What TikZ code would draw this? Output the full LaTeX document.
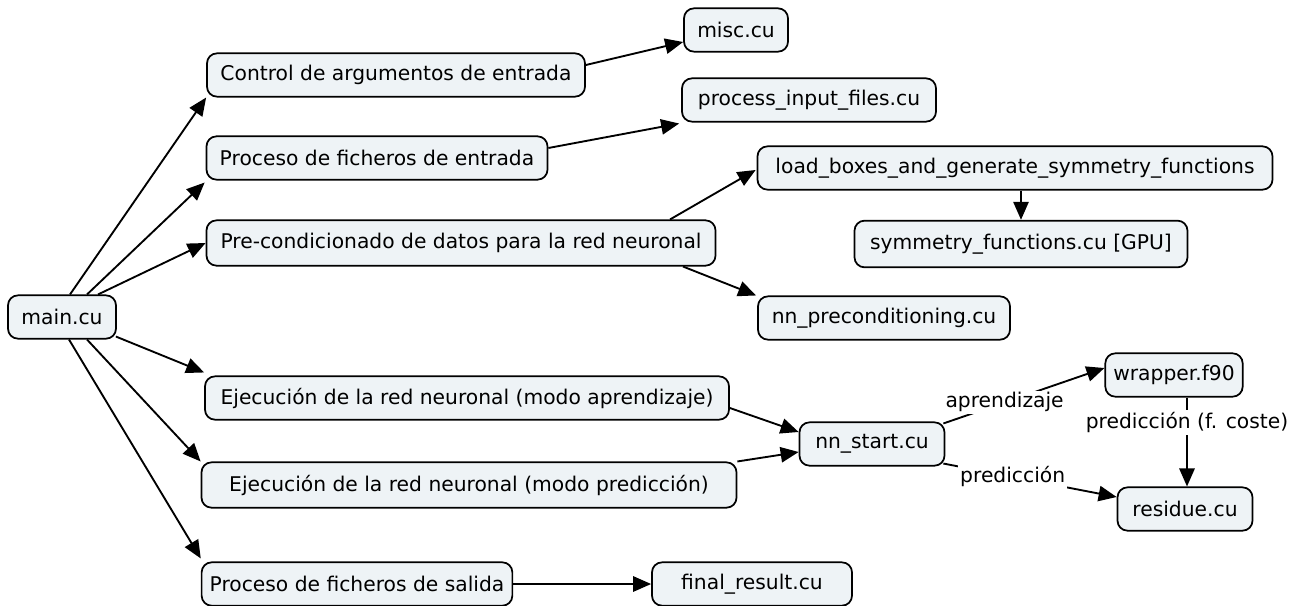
\documentclass[tikz,border=0pt]{standalone}
\usepackage{fontspec}
\setmainfont{DejaVu Sans}
\usetikzlibrary{arrows.meta,calc}
\definecolor{boxfill}{RGB}{238,243,246}
\tikzset{
  cbox/.style={draw=black, line width=1.3pt, fill=boxfill, rounded corners=7.5pt,
    inner xsep=6pt, inner ysep=0pt, minimum height=32.5pt,
    font=\fontsize{15.2}{18}\selectfont},
  wd/.style={minimum width=#1*0.75pt},
  arr/.style={line width=1.4pt, -{Triangle[length=13.5pt,width=11.5pt]}},
  lbl/.style={fill=white, inner sep=1.5pt, font=\fontsize{15.2}{18}\selectfont}
}
\begin{document}
\begin{tikzpicture}[x=0.75pt,y=-0.75pt]
\useasboundingbox (0,0) rectangle (1299,606);
\node[cbox,wd=108] (main) at (62,317) {main.cu};
\node[cbox,wd=378] (ctrl) at (396,75) {Control de argumentos de entrada};
\node[cbox,wd=104] (misc) at (736,30) {misc.cu};
\node[cbox,wd=254] (pif) at (809,100) {process\_input\_files.cu};
\node[cbox,wd=341] (entr) at (377,158) {Proceso de ficheros de entrada};
\node[cbox,wd=515] (load) at (1015,168) {load\_boxes\_and\_generate\_symmetry\_functions};
\node[cbox,wd=333,minimum height=35pt] (sym) at (1021,244) {symmetry\_functions.cu [GPU]};
\node[cbox,wd=509,minimum height=34pt] (prec) at (461,243) {Pre-condicionado de datos para la red neuronal};
\node[cbox,wd=252] (nnp) at (884,318) {nn\_preconditioning.cu};
\node[cbox,wd=129] (wrap) at (1174,375) {wrapper.f90};
\node[cbox,wd=524] (apr) at (467,398) {Ejecución de la red neuronal (modo aprendizaje)};
\node[cbox,wd=145] (nns) at (872,444) {nn\_start.cu};
\node[cbox,wd=535,minimum height=34pt] (pred) at (469,485) {Ejecución de la red neuronal (modo predicción)};
\node[cbox,wd=135] (res) at (1185,509) {residue.cu};
\node[cbox,wd=308] (sal) at (357,584) {Proceso de ficheros de salida};
\node[cbox,wd=200] (fin) at (752,584) {final\_result.cu};

\draw[arr] ($(main.north)+(8,0)$) -- (ctrl.south west);
\draw[arr] ($(main.north)+(25,0)$) -- ($(entr.south west)+(-1,2)$);
\draw[arr] ($(main.north)+(36,0)$) -- (prec.west);
\draw[arr] ($(main.south east)+(-1,-3)$) -- ($(apr.north west)+(0,-3)$);
\draw[arr] ($(main.south)+(25,0)$) -- (pred.north west);
\draw[arr] ($(main.south)+(7,0)$) -- ($(sal.north west)+(0,-3)$);

\draw[arr] ($(ctrl.east)+(0,-10)$) -- ($(misc.west)+(0,12)$);
\draw[arr] ($(entr.east)+(0,-10)$) -- ($(pif.south west)+(-2,1)$);
\draw[arr] ($(prec.north)+(209,0)$) -- ($(load.west)+(-1,2)$);
\draw[arr] ($(prec.south)+(222,0)$) -- ($(nnp.north west)+(-1,0)$);
\draw[arr] (sym.north |- load.south) -- (sym.north);
\draw[arr] ($(apr.east)+(0,10)$) -- ($(nns.west)+(0,-12)$);
\draw[arr] ($(pred.north east)+(0,0)$) -- ($(nns.west)+(0,8)$);
\draw[arr] ($(nns.north east)+(-2,2)$) -- node[lbl,pos=0.38]{aprendizaje} ($(wrap.west)+(0,-7)$);
\draw[arr] ($(nns.south east)+(-2,-3)$) -- node[lbl,pos=0.4]{predicción} ($(res.west)+(0,-12)$);
\draw[arr] ($(wrap.south)+(13,0)$) -- node[lbl,pos=0.28]{predicción (f. coste)} ($(res.north)+(2,0)$);
\draw[arr] (sal.east) -- (fin.west);
\end{tikzpicture}
\end{document}
